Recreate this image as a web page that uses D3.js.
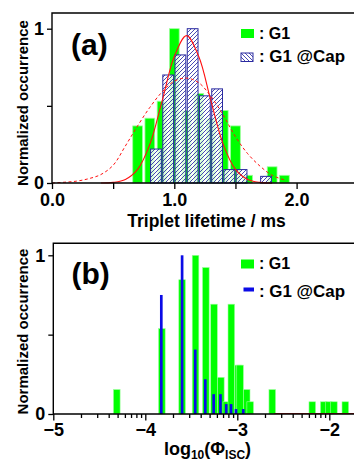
<!DOCTYPE html>
<html>
<head>
<meta charset="utf-8">
<script src="https://cdn.jsdelivr.net/npm/d3@7"></script>
<style>
  body { margin: 0; background: #fff; }
  svg { display: block; font-family: "Liberation Sans", Arial, sans-serif; font-weight: bold; }
</style>
</head>
<body>
<svg id="chart" width="354" height="468"></svg>
<script>
// ---- panel (a): triplet lifetime histograms (normalized) ----
const lifetimeBinsG1 = [0.7, 0.8, 0.9, 1.0, 1.1, 1.2, 1.3, 1.4, 1.5, 1.6, 1.7, 1.8, 1.9];
const lifetimeG1 = [0.37, 0.42, 0.53, 1.0, 0.47, 0.58, 0.42, 0.47, 0.37, 0.05, 0, 0.105, 0.05];
const lifetimeBinsCap = [0.85, 0.95, 1.05, 1.15, 1.25, 1.35, 1.45, 1.55, 1.65, 1.75];
const lifetimeCap = [0.22, 0.70, 0.83, 1.0, 0.565, 0.61, 0.087, 0.087, 0, 0.043];
const lifetimeTicks = [0, 0.5, 1, 1.5, 2, 2.5];

// fit curves
const fitSolidX = [0.4, 0.5, 0.6, 0.7, 0.8, 0.9, 1.0, 1.1, 1.2, 1.3, 1.4, 1.5, 1.6, 1.7, 1.8];
const fitSolidY = [0, 0.004, 0.023, 0.088, 0.25, 0.53, 0.82, 0.955, 0.82, 0.53, 0.25, 0.088, 0.023, 0.004, 0];
const fitDashX = [0, 0.1, 0.2, 0.3, 0.4, 0.5, 0.6, 0.7, 0.8, 0.9, 1.0, 1.1, 1.2, 1.3, 1.4, 1.5, 1.6, 1.7, 1.8, 1.9];
const fitDashY = [0, 0.005, 0.012, 0.028, 0.055, 0.115, 0.24, 0.37, 0.49, 0.59, 0.66, 0.68, 0.65, 0.56, 0.44, 0.30, 0.19, 0.11, 0.05, 0.02];

// ---- panel (b): log10(Phi_ISC) histograms (normalized) ----
const phiBinsG1 = [-4.31, -3.82, -3.60, -3.454, -3.342, -3.253, -3.179, -3.12, -3.065, -2.99, -2.97,
                   -2.898, -2.86, -2.62, -2.185, -2.06, -2.005, -1.95, -1.826];
const phiG1 = [0.154, 0.538, 0.846, 1.0, 0.923, 0.692, 0.231, 0.077, 0.692, 0.308, 0.308,
               0.154, 0.077, 0.154, 0.077, 0.077, 0.077, 0.077, 0.077];
const phiBinsCap = [-3.826, -3.60, -3.457, -3.348, -3.257, -3.183, -3.12, -3.068, -3.014, -2.935];
const phiCap = [0.75, 1.0, 0.406, 0.219, 0.125, 0.125, 0.0625, 0.0625, 0.031, 0.031];
const phiMajorTicks = [-5, -4, -3, -2];

const svg = d3.select("#chart");
svg.append("rect").attr("width", 354).attr("height", 468).attr("fill", "#fff");

const defs = svg.append("defs");
function hatch(id, d) {
  const p = defs.append("pattern").attr("id", id)
    .attr("patternUnits", "userSpaceOnUse").attr("width", 4).attr("height", 4);
  p.append("rect").attr("width", 4).attr("height", 4).attr("fill", "#fff").attr("fill-opacity", 0.85);
  p.append("path").attr("d", d).attr("stroke", "#1c1ca0").attr("stroke-width", 0.8);
}
hatch("hatchBar", "M0,4L4,0M-1,1L1,-1M3,5L5,3");
hatch("hatchKey", "M0,0L4,4M-1,3L1,5M3,-1L5,1");

const green = "#00ff00", greenEdge = "#9dff9d", blue = "#0b0be6", navy = "#2a2aa0";

function styleAxis(g) {
  g.attr("font-size", 18).attr("font-family", '"Liberation Sans", Arial, sans-serif')
    .attr("font-weight", "bold");
  g.selectAll("line").attr("stroke", "#000").attr("stroke-width", 1.3);
  g.select(".domain").remove();
}

function frame(g, x0, x1, y0, y1) {
  g.append("path").attr("d", `M${x1},${y0}H${x0}V${y1}H${x1}`)
    .attr("fill", "none").attr("stroke", "#000").attr("stroke-width", 1.4);
}

function yLabel(x, y) {
  svg.append("text").attr("transform", `translate(${x},${y}) rotate(-90)`)
    .attr("text-anchor", "middle").attr("font-size", 15).text("Normalized occurrence");
}

function legend(y1, y2, capKey) {
  const g = svg.append("g");
  g.append("rect").attr("x", 241).attr("y", y1 - 9.5).attr("width", 13).attr("height", 9).attr("fill", green);
  g.append("text").attr("x", 259).attr("y", y1).attr("font-size", 16).text(": G1");
  capKey(g);
  g.append("text").attr("x", 259).attr("y", y2).attr("font-size", 16)
    .attr("textLength", 86).attr("lengthAdjust", "spacingAndGlyphs").text(": G1 @Cap");
}

// ================= panel (a) =================
const xA = d3.scaleLinear().domain([0, 2.5]).range([52, 357.75]);
const yA = d3.scaleLinear().domain([0, 1]).range([183, 28.7]);
const gA = svg.append("g");

const wG = 0.08, wC = 0.088;
gA.selectAll(".g1").data(lifetimeBinsG1.map((c, i) => ({c, v: lifetimeG1[i]})).filter(d => d.v > 0))
  .join("rect")
  .attr("x", d => xA(d.c - wG / 2)).attr("width", d => xA(d.c + wG / 2) - xA(d.c - wG / 2))
  .attr("y", d => yA(d.v)).attr("height", d => yA(0) - yA(d.v))
  .attr("fill", green).attr("stroke", greenEdge).attr("stroke-width", 0.8);

gA.selectAll(".cap").data(lifetimeBinsCap.map((c, i) => ({c, v: lifetimeCap[i]})).filter(d => d.v > 0))
  .join("rect")
  .attr("x", d => xA(d.c - wC / 2)).attr("width", d => xA(d.c + wC / 2) - xA(d.c - wC / 2))
  .attr("y", d => yA(d.v)).attr("height", d => yA(0) - yA(d.v))
  .attr("fill", "url(#hatchBar)").attr("stroke", navy).attr("stroke-width", 1);

const lineA = d3.line().x(d => xA(d[0])).y(d => yA(d[1])).curve(d3.curveCatmullRom);
gA.append("path").datum(fitDashX.map((x, i) => [x, fitDashY[i]])).attr("d", lineA)
  .attr("fill", "none").attr("stroke", "#ff1010").attr("stroke-width", 1).attr("stroke-dasharray", "3,2.5");
gA.append("path").datum(fitSolidX.map((x, i) => [x, fitSolidY[i]])).attr("d", lineA)
  .attr("fill", "none").attr("stroke", "#ff1010").attr("stroke-width", 1.1);

gA.append("g").attr("transform", "translate(0,183)")
  .call(d3.axisBottom(xA).tickValues(lifetimeTicks)
    .tickFormat(d => d % 1 === 0 ? d.toFixed(1) : "").tickSizeInner(6).tickSizeOuter(0).tickPadding(4))
  .call(styleAxis);
gA.append("g").attr("transform", "translate(52,0)")
  .call(d3.axisLeft(yA).tickValues([0, 0.5, 1])
    .tickFormat(d => d === 0.5 ? "" : d).tickSize(5).tickPadding(3))
  .call(styleAxis);
frame(gA, 52, 354, 13, 183);

svg.append("text").attr("x", 71).attr("y", 54.5).attr("font-size", 30).text("(a)");
svg.append("text").attr("x", 206.5).attr("y", 227).attr("text-anchor", "middle")
  .attr("font-size", 17.5).text("Triplet lifetime / ms");
yLabel(27.5, 103);
legend(38.5, 62, g => g.append("rect").attr("x", 241).attr("y", 53).attr("width", 12).attr("height", 8.5)
  .attr("fill", "url(#hatchKey)").attr("stroke", navy).attr("stroke-width", 1));

// ================= panel (b) =================
const xB = d3.scaleLinear().domain([-5, -1.7]).range([53.3, 356.9]);
const yB = d3.scaleLinear().domain([0, 1]).range([414, 255.3]);
const gB = svg.append("g");

const wPG = 0.072, wPC = 0.029;
gB.selectAll(".g1").data(phiBinsG1.map((c, i) => ({c, v: phiG1[i]})))
  .join("rect")
  .attr("x", d => xB(d.c - wPG / 2)).attr("width", d => xB(d.c + wPG / 2) - xB(d.c - wPG / 2))
  .attr("y", d => yB(d.v)).attr("height", d => yB(0) - yB(d.v))
  .attr("fill", green).attr("stroke", greenEdge).attr("stroke-width", 0.6);

gB.append("line").attr("x1", xB(-2.6)).attr("x2", xB(-1.7)).attr("y1", yB(0) - 0.5).attr("y2", yB(0) - 0.5)
  .attr("stroke", "#d02020").attr("stroke-width", 1);

gB.selectAll(".cap").data(phiBinsCap.map((c, i) => ({c, v: phiCap[i]})))
  .join("rect")
  .attr("x", d => xB(d.c - wPC / 2)).attr("width", d => xB(d.c + wPC / 2) - xB(d.c - wPC / 2))
  .attr("y", d => yB(d.v)).attr("height", d => yB(0) - yB(d.v))
  .attr("fill", blue);

const minorB = [];
phiMajorTicks.concat([-6]).forEach(m => {
  for (let k = 2; k <= 9; k++) {
    const t = m + Math.log10(k);
    if (t > -5 && t < -1.7) minorB.push(t);
  }
});
gB.append("g").attr("transform", "translate(0,414)")
  .call(d3.axisBottom(xB).tickValues(minorB).tickFormat("").tickSizeInner(4).tickSizeOuter(0))
  .call(styleAxis);
gB.append("g").attr("transform", "translate(0,414)")
  .call(d3.axisBottom(xB).tickValues(phiMajorTicks)
    .tickFormat(d => "\u2212" + Math.abs(d)).tickSizeInner(6.5).tickSizeOuter(0).tickPadding(3))
  .call(styleAxis);
gB.append("g").attr("transform", "translate(53.3,0)")
  .call(d3.axisLeft(yB).tickValues([0, 0.5, 1])
    .tickFormat(d => d === 0.5 ? "" : d).tickSize(5).tickPadding(3))
  .call(styleAxis);
frame(gB, 53.3, 354, 243.3, 414);

svg.append("text").attr("x", 71.5).attr("y", 284).attr("font-size", 30).text("(b)");
const xl = svg.append("text").attr("x", 207.5).attr("y", 455).attr("text-anchor", "middle").attr("font-size", 18);
xl.append("tspan").text("log");
xl.append("tspan").attr("font-size", 12).attr("dy", 4).text("10");
xl.append("tspan").attr("dy", -4).text("(\u03A6");
xl.append("tspan").attr("font-size", 12).attr("dy", 4).text("ISC");
xl.append("tspan").attr("dy", -4).text(")");
yLabel(28, 331.5);
legend(269, 296.5, g => g.append("rect").attr("x", 243.5).attr("y", 287.5).attr("width", 10.5).attr("height", 4)
  .attr("fill", blue));
</script>
</body>
</html>
